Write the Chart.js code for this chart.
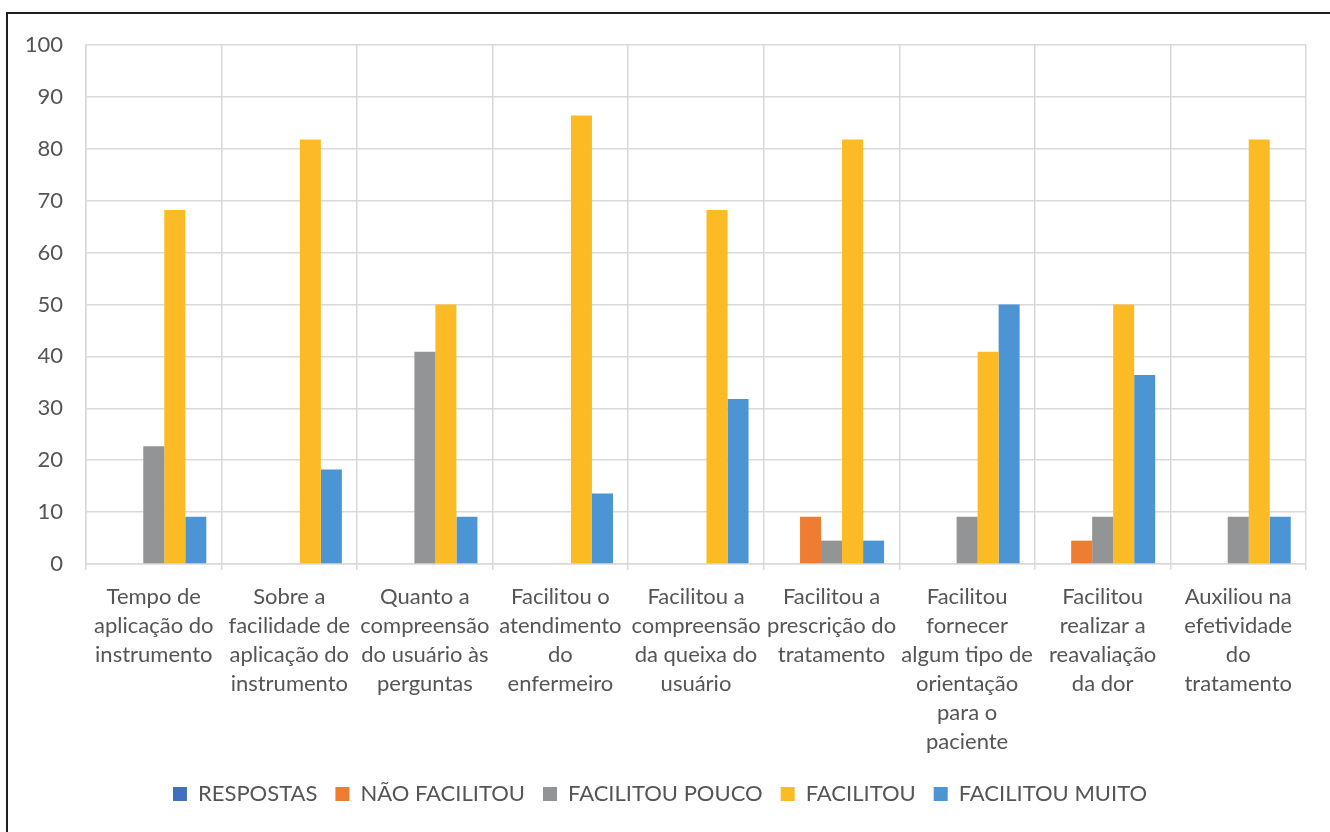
<!DOCTYPE html>
<html>
<head>
<meta charset="utf-8">
<script src="https://cdn.jsdelivr.net/npm/chart.js@4.4.1/dist/chart.umd.min.js"></script>
<style>
  body { margin: 0; background: #fff; }
  #wrap { position: relative; width: 1330px; height: 832px; overflow: hidden; }
  #frame { position: absolute; left: 6px; top: 12px; width: 1400px; height: 900px; border: 2px solid #1f1f1f; }
  #box { position: absolute; left: 0; top: 0; width: 1330px; height: 832px; }
</style>
</head>
<body>
<div id="wrap">
  <div id="frame"></div>
  <div id="box"><canvas id="myChart"></canvas></div>
</div>
<script>
const categories = [
  ["Tempo de", "aplicação do", "instrumento"],
  ["Sobre a", "facilidade de", "aplicação do", "instrumento"],
  ["Quanto a", "compreensão", "do usuário às", "perguntas"],
  ["Facilitou o", "atendimento", "do", "enfermeiro"],
  ["Facilitou a", "compreensão", "da queixa do", "usuário"],
  ["Facilitou a", "prescrição do", "tratamento"],
  ["Facilitou", "fornecer", "algum tipo de", "orientação", "para o", "paciente"],
  ["Facilitou", "realizar a", "reavaliação", "da dor"],
  ["Auxiliou na", "efetividade", "do", "tratamento"]
];

const respostas      = [null, null, null, null, null, null, null, null, null];
const naoFacilitou   = [null, null, null, null, null, 9.1, null, 4.5, null];
const facilitouPouco = [22.7, null, 40.9, null, null, 4.5, 9.1, 9.1, 9.1];
const facilitou      = [68.2, 81.8, 50, 86.4, 68.2, 81.8, 40.9, 50, 81.8];
const facilitouMuito = [9.1, 18.2, 9.1, 13.6, 31.8, 4.5, 50, 36.4, 9.1];

const textColor = '#555555';
const gridColor = '#d9d9d9';

function serie(label, data, color) {
  return {
    label: label,
    data: data,
    backgroundColor: color,
    borderWidth: 0,
    categoryPercentage: 0.775,
    barPercentage: 1.0
  };
}

new Chart('myChart', {
  type: 'bar',
  data: {
    labels: categories,
    datasets: [
      serie('RESPOSTAS', respostas, '#3f6fc2'),
      serie('NÃO FACILITOU', naoFacilitou, '#ee7d31'),
      serie('FACILITOU POUCO', facilitouPouco, '#929496'),
      serie('FACILITOU', facilitou, '#fcbb24'),
      serie('FACILITOU MUITO', facilitouMuito, '#4b95d4')
    ]
  },
  options: {
    responsive: true,
    maintainAspectRatio: false,
    animation: false,
    layout: { padding: { left: 14, right: 24, top: 45, bottom: 17 } },
    plugins: {
      tooltip: { enabled: false },
      legend: {
        position: 'bottom',
        labels: {
          boxWidth: 14,
          boxHeight: 14,
          padding: 18,
          color: textColor,
          font: { family: 'Lato', size: 22 }
        }
      }
    },
    scales: {
      x: {
        grid: { color: gridColor, lineWidth: 1.5, tickLength: 6, drawTicks: true },
        border: { color: gridColor, width: 1.5 },
        ticks: {
          color: textColor,
          padding: 12,
          maxRotation: 0,
          minRotation: 0,
          autoSkip: false,
          font: { family: 'Lato', size: 22, lineHeight: 1.32 }
        },
        afterFit: (scale) => { scale.height = 201; }
      },
      y: {
        min: 0,
        max: 100,
        grid: { color: gridColor, lineWidth: 1.5, drawTicks: false },
        border: { color: gridColor, width: 1.5 },
        ticks: {
          stepSize: 10,
          color: textColor,
          padding: 23,
          font: { family: 'Lato', size: 22 }
        },
        afterFit: (scale) => { scale.width = 72; }
      }
    }
  }
});
</script>
</body>
</html>
